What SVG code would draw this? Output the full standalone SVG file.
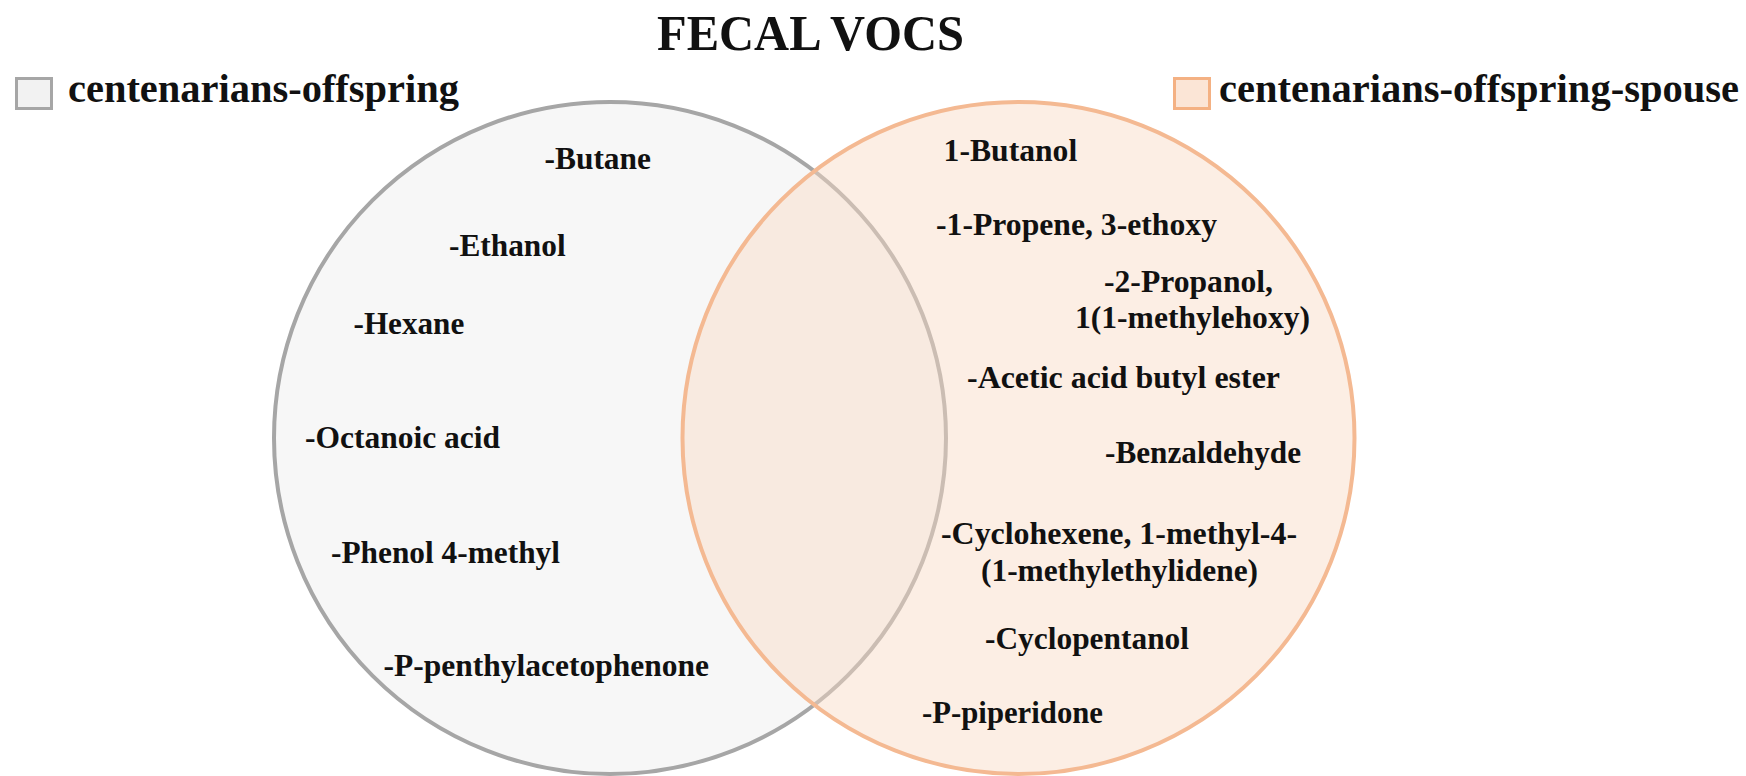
<svg xmlns="http://www.w3.org/2000/svg" width="1746" height="776" viewBox="0 0 1746 776">
<style>
.t{font-family:"Liberation Serif","Times New Roman",serif;font-weight:bold;fill:#111;}
.item{font-size:31.5px;}
.leg{font-size:40.5px;}
.title{font-size:50px;}
.setA{fill:#f7f7f7;stroke:#a6a6a6;stroke-width:4;}
.setB{fill:#f9d9c4;fill-opacity:0.45;stroke:#f4b992;stroke-width:4;}
.swA{fill:#f2f2f2;stroke:#a6a6a6;stroke-width:3;}
.swB{fill:#fbe5d6;stroke:#f4b183;stroke-width:3;}
</style>
<rect width="1746" height="776" fill="#ffffff"/>
<g id="title">
<text class="t title" x="657" y="50" textLength="307" lengthAdjust="spacingAndGlyphs">FECAL VOCS</text>
</g>
<g id="legend-offspring">
<rect class="swA" x="16.5" y="78.5" width="35" height="30"/>
<text class="t leg" x="68" y="102" textLength="391" lengthAdjust="spacingAndGlyphs">centenarians-offspring</text>
</g>
<g id="legend-spouse">
<rect class="swB" x="1174.5" y="78.5" width="35" height="30"/>
<text class="t leg" x="1219" y="102" textLength="520" lengthAdjust="spacingAndGlyphs">centenarians-offspring-spouse</text>
</g>
<g id="set-offspring">
<circle class="setA" cx="610" cy="438" r="336"/>
</g>
<g id="set-spouse">
<circle class="setB" cx="1018.5" cy="438" r="336"/>
</g>
<g id="connectors"></g>
<g id="labels-offspring">
<text class="t item" x="544.5" y="169" textLength="106.5" lengthAdjust="spacingAndGlyphs">-Butane</text>
<text class="t item" x="449" y="256" textLength="116.6" lengthAdjust="spacingAndGlyphs">-Ethanol</text>
<text class="t item" x="353.5" y="334" textLength="110.8" lengthAdjust="spacingAndGlyphs">-Hexane</text>
<text class="t item" x="305" y="447.5" textLength="195" lengthAdjust="spacingAndGlyphs">-Octanoic acid</text>
<text class="t item" x="331" y="562.5" textLength="229" lengthAdjust="spacingAndGlyphs">-Phenol 4-methyl</text>
<text class="t item" x="383.6" y="675.5" textLength="325.5" lengthAdjust="spacingAndGlyphs">-P-penthylacetophenone</text>
</g>
<g id="labels-spouse">
<text class="t item" x="943.6" y="161" textLength="133.6" lengthAdjust="spacingAndGlyphs">1-Butanol</text>
<text class="t item" x="936" y="234.5" textLength="281" lengthAdjust="spacingAndGlyphs">-1-Propene, 3-ethoxy</text>
<text class="t item" x="1104" y="292" textLength="169" lengthAdjust="spacingAndGlyphs">-2-Propanol,</text>
<text class="t item" x="1075" y="327.5" textLength="235" lengthAdjust="spacingAndGlyphs">1(1-methylehoxy)</text>
<text class="t item" x="967" y="388" textLength="313" lengthAdjust="spacingAndGlyphs">-Acetic acid butyl ester</text>
<text class="t item" x="1105" y="463" textLength="196" lengthAdjust="spacingAndGlyphs">-Benzaldehyde</text>
<text class="t item" x="941" y="544" textLength="356" lengthAdjust="spacingAndGlyphs">-Cyclohexene, 1-methyl-4-</text>
<text class="t item" x="981" y="580.5" textLength="277" lengthAdjust="spacingAndGlyphs">(1-methylethylidene)</text>
<text class="t item" x="985" y="649" textLength="204" lengthAdjust="spacingAndGlyphs">-Cyclopentanol</text>
<text class="t item" x="922" y="723" textLength="181" lengthAdjust="spacingAndGlyphs">-P-piperidone</text>
</g>
</svg>
